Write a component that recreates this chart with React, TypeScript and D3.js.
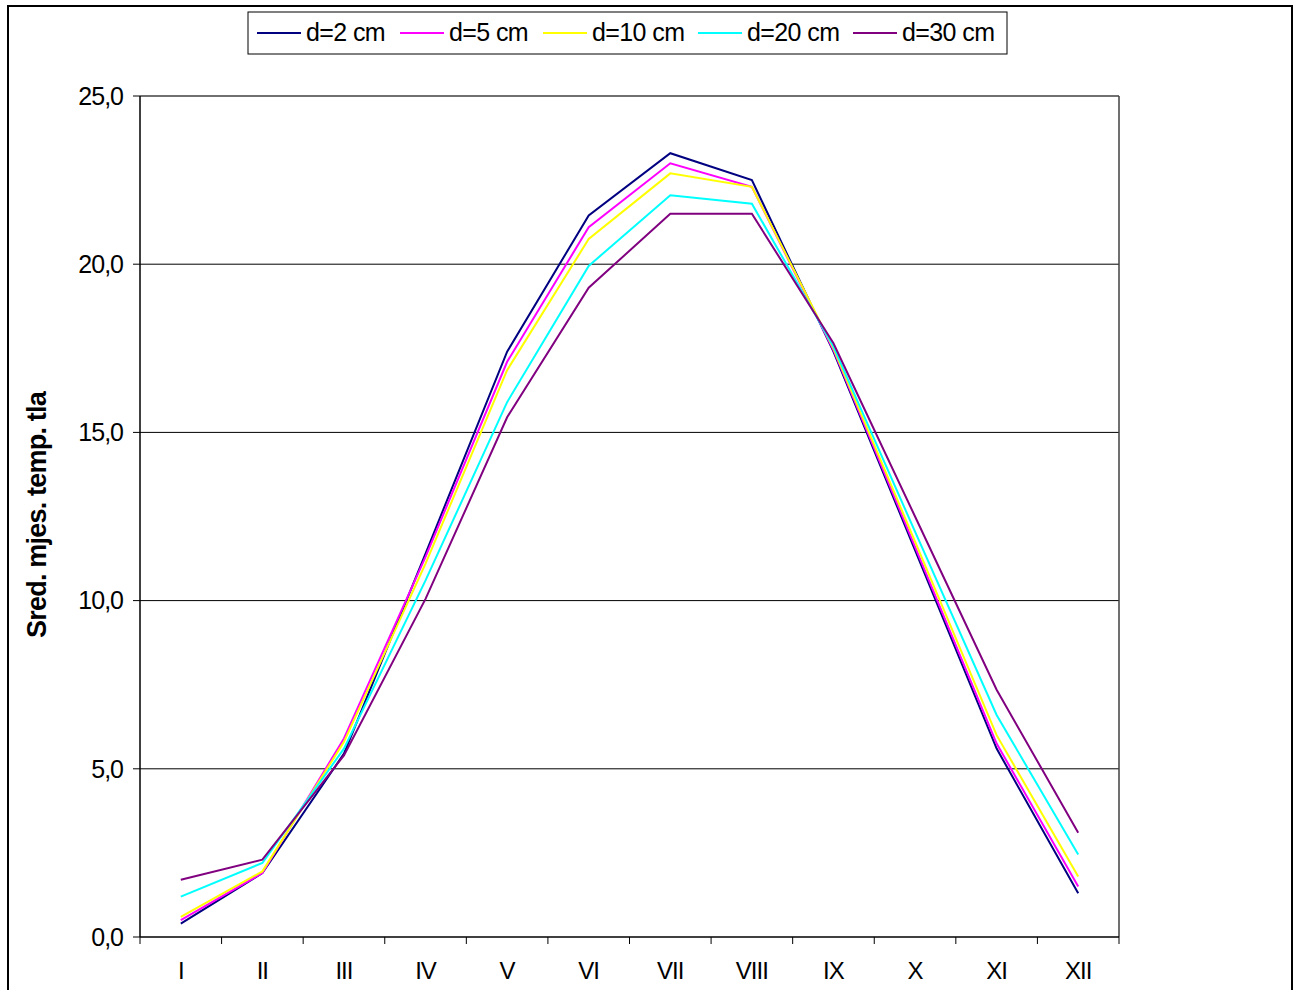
import React from "react";
import * as d3 from "d3";

const months = ["I", "II", "III", "IV", "V", "VI", "VII", "VIII", "IX", "X", "XI", "XII"];
const yTicks = [0, 5, 10, 15, 20, 25];

const d2 = [0.4, 1.9, 5.45, 11.4, 17.4, 21.45, 23.3, 22.5, 17.4, 11.5, 5.6, 1.3];
const d5 = [0.5, 1.9, 5.9, 11.3, 17.1, 21.1, 23.0, 22.3, 17.45, 11.6, 5.75, 1.5];
const d10 = [0.6, 1.95, 5.8, 11.1, 16.85, 20.75, 22.7, 22.3, 17.5, 11.75, 6.0, 1.8];
const d20 = [1.2, 2.2, 5.6, 10.6, 15.9, 19.95, 22.05, 21.8, 17.55, 12.05, 6.6, 2.45];
const d30 = [1.7, 2.3, 5.4, 10.05, 15.45, 19.3, 21.5, 21.5, 17.65, 12.5, 7.35, 3.1];

const seriesNames = ["d=2 cm", "d=5 cm", "d=10 cm", "d=20 cm", "d=30 cm"];
const seriesValues = [d2, d5, d10, d20, d30];
const seriesColors = ["#000080", "#FF00FF", "#FFFF00", "#00FFFF", "#800080"];

const W = 1296;
const H = 990;
const left = 140;
const right = 1119;
const top = 96;
const bottom = 937;
const font = "'Liberation Sans', Arial, sans-serif";

export default function App() {
  const x = d3.scaleBand<string>().domain(months).range([left, right]).padding(0);
  const y = d3.scaleLinear().domain([0, 25]).range([bottom, top]);
  const bw = x.bandwidth();
  const line = d3
    .line<number>()
    .x((_, i) => (x(months[i]) as number) + bw / 2)
    .y((v) => y(v));

  const legendX = [257, 400, 543, 698, 853];

  return (
    <svg
      width={W}
      height={H}
      style={{ position: "absolute", left: 0, top: 0, background: "#fff" }}
      fontFamily={font}
    >
      <rect x={0} y={0} width={W} height={H} fill="#fff" />
      <rect x={8} y={6} width={1284} height={1010} fill="none" stroke="#000" strokeWidth={2} />

      {/* gridlines */}
      {yTicks.slice(1, -1).map((t) => (
        <line key={t} x1={left} x2={right} y1={y(t)} y2={y(t)} stroke="#000" strokeWidth={1} />
      ))}
      {/* plot border top/right */}
      <line x1={left} x2={right} y1={y(25)} y2={y(25)} stroke="#404040" strokeWidth={1.5} />
      <line x1={right} x2={right} y1={top} y2={bottom} stroke="#404040" strokeWidth={1.5} />

      {/* axes */}
      <line x1={left} x2={left} y1={top} y2={bottom} stroke="#000" strokeWidth={1.5} />
      <line x1={left} x2={right} y1={bottom} y2={bottom} stroke="#000" strokeWidth={1.5} />
      {yTicks.map((t) => (
        <g key={t}>
          <line x1={left - 7} x2={left} y1={y(t)} y2={y(t)} stroke="#000" strokeWidth={1} />
          <text
            x={123}
            y={y(t)}
            dy="0.35em"
            textAnchor="end"
            fontSize={25}
            letterSpacing={-1}
            fill="#000"
          >
            {t.toFixed(1).replace(".", ",")}
          </text>
        </g>
      ))}
      {months.map((m, i) => (
        <g key={m}>
          <line
            x1={(x(m) as number)}
            x2={(x(m) as number)}
            y1={bottom}
            y2={bottom + 7}
            stroke="#000"
            strokeWidth={1}
          />
          <text
            x={(x(m) as number) + bw / 2}
            y={979}
            textAnchor="middle"
            fontSize={24}
            letterSpacing={-1}
            fill="#000"
          >
            {m}
          </text>
        </g>
      ))}
      <line x1={right} x2={right} y1={bottom} y2={bottom + 7} stroke="#000" strokeWidth={1} />

      {/* series */}
      {seriesValues.map((vals, i) => (
        <path
          key={seriesNames[i]}
          d={line(vals) as string}
          fill="none"
          stroke={seriesColors[i]}
          strokeWidth={2}
          strokeLinejoin="miter"
        />
      ))}

      {/* y title */}
      <text
        transform={`translate(46,515) rotate(-90)`}
        textAnchor="middle"
        fontSize={27}
        fontWeight="bold"
        letterSpacing={-0.8}
        fill="#000"
      >
        Sred. mjes. temp. tla
      </text>

      {/* legend */}
      <rect x={248} y={12} width={759} height={42} fill="#fff" stroke="#000" strokeWidth={1} />
      {seriesNames.map((n, i) => (
        <g key={n}>
          <line
            x1={legendX[i]}
            x2={legendX[i] + 44}
            y1={33}
            y2={33}
            stroke={seriesColors[i]}
            strokeWidth={2}
          />
          <text x={legendX[i] + 49} y={41} fontSize={25} letterSpacing={-0.6} fill="#000">
            {n}
          </text>
        </g>
      ))}
    </svg>
  );
}
